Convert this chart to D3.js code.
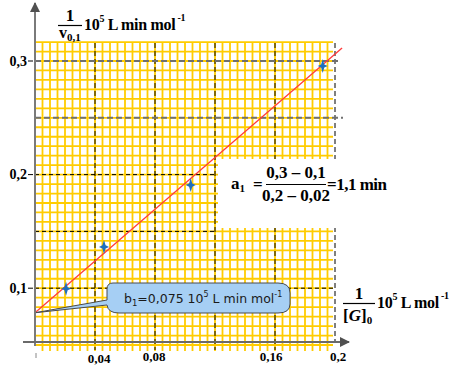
<!DOCTYPE html>
<html>
<head>
<meta charset="utf-8">
<script src="https://cdn.jsdelivr.net/npm/d3@7"></script>
<style>
  body { margin: 0; background: #fff; }
  svg { display: block; }
  .math { font-family: "Liberation Serif", "Times New Roman", serif; font-weight: bold; fill: #000; }
</style>
</head>
<body>
<svg width="465" height="386"></svg>
<script>
// measured points (1/[G]0, 1/v0,1)
const pointX = [0.0207, 0.046, 0.1038, 0.1918];
const pointY = [0.0995, 0.1363, 0.1908, 0.2956];

// fitted straight line, two ends
const lineX = [0, 0.2047];
const lineY = [0.0784, 0.3114];

const xTicks = [0.04, 0.08, 0.16, 0.2];
const xTickLabels = ['0,04', '0,08', '0,16', '0,2'];
const yTicks = [0.1, 0.2, 0.3];
const yTickLabels = ['0,1', '0,2', '0,3'];

const vGuides = [0.04, 0.08, 0.12, 0.16, 0.2];
const hGuides = [0.3, 0.25, 0.2, 0.15, 0.1];

const svg = d3.select('svg');

const x = d3.scaleLinear().domain([0, 0.2]).range([35, 335]);
const y = d3.scaleLinear().domain([0.05, 0.3]).range([345, 61]);

const gridTop = 43, gridBottom = 351, gridRight = 333;
const axisY = 342;

// graph paper
const grid = svg.append('g').attr('stroke', '#ffcc00').attr('stroke-width', 1.8);
grid.selectAll('line.v')
  .data(d3.range(1, 40).map(i => i * 0.005))
  .enter().append('line')
  .attr('x1', d => x(d)).attr('x2', d => x(d))
  .attr('y1', gridTop).attr('y2', gridBottom);
grid.selectAll('line.h')
  .data(d3.range(-1, 35).map(i => 0.05 + i * 0.05 / 6).filter(v => y(v) >= gridTop - 1 && y(v) <= gridBottom))
  .enter().append('line')
  .attr('x1', x(0)).attr('x2', gridRight)
  .attr('y1', d => y(d)).attr('y2', d => y(d));

// dashed guides
svg.append('g').selectAll('line')
  .data(vGuides)
  .enter().append('line')
  .attr('x1', d => x(d)).attr('x2', d => x(d))
  .attr('y1', gridTop).attr('y2', d => d === 0.2 ? axisY : gridBottom - 1)
  .attr('stroke', '#000').attr('stroke-width', 1)
  .attr('stroke-dasharray', '5,3');

const hEnd = { 0.3: 340, 0.25: 343, 0.2: 215, 0.15: 215, 0.1: 335 };
svg.append('g').selectAll('line')
  .data(hGuides)
  .enter().append('line')
  .attr('x1', x(0)).attr('x2', d => hEnd[d])
  .attr('y1', d => y(d)).attr('y2', d => y(d))
  .attr('stroke', d => d >= 0.25 ? '#707070' : '#000')
  .attr('stroke-width', d => d >= 0.25 ? 2 : 1)
  .attr('stroke-dasharray', d => d >= 0.25 ? '6,3' : '4,3');

// white box behind the slope formula
svg.append('rect')
  .attr('x', 218).attr('y', 159)
  .attr('width', 130).attr('height', 69)
  .attr('fill', '#fff');

// fitted line
svg.append('path')
  .datum(lineX.map((d, i) => [d, lineY[i]]))
  .attr('d', d3.line().x(d => x(d[0])).y(d => y(d[1])))
  .attr('stroke', '#ff3b3b').attr('stroke-width', 1.3).attr('fill', 'none');

// points as blue four-point stars
const star = 'M0,-7 L1.6,-1.6 L5,0 L1.6,1.6 L0,7 L-1.6,1.6 L-5,0 L-1.6,-1.6Z';
svg.append('g').selectAll('path')
  .data(pointX.map((d, i) => [d, pointY[i]]))
  .enter().append('path')
  .attr('d', star)
  .attr('transform', d => `translate(${x(d[0])},${y(d[1])})`)
  .attr('fill', '#1f6fbd');

// callout for the intercept
const tip = [x(0), y(lineY[0])];
const bx0 = 107, bx1 = 290, bt = 283, bb = 313;
const callout = d3.path();
callout.moveTo(bx0 + 6, bt);
callout.lineTo(bx1 - 12, bt);
callout.quadraticCurveTo(bx1, bt, bx1, bt + 10);
callout.lineTo(bx1, bb - 9);
callout.quadraticCurveTo(bx1, bb, bx1 - 12, bb);
callout.lineTo(bx0 + 12, bb);
callout.quadraticCurveTo(bx0 + 1, bb, bx0, bb - 8);
callout.lineTo(tip[0], tip[1]);
callout.lineTo(bx0, bb - 13);
callout.lineTo(bx0, bt + 6);
callout.quadraticCurveTo(bx0, bt, bx0 + 6, bt);
callout.closePath();
svg.append('path')
  .attr('d', callout.toString())
  .attr('fill', '#a6cff4').attr('stroke', '#4a4a4a').attr('stroke-width', 1);

const ct = svg.append('text')
  .attr('x', 124).attr('y', 303)
  .attr('font-family', 'DejaVu Sans, sans-serif')
  .attr('font-size', 12.5).attr('fill', '#1a1a1a');
ct.append('tspan').text('b');
ct.append('tspan').attr('font-size', 8.5).attr('dy', 3).text('1');
ct.append('tspan').attr('dy', -3).text('=0,075 10');
ct.append('tspan').attr('font-size', 8).attr('dy', -6).text('5');
ct.append('tspan').attr('dy', 6).text(' L min mol');
ct.append('tspan').attr('font-size', 8).attr('dy', -6).text('-1');

// axes
const defs = svg.append('defs');
defs.append('marker')
  .attr('id', 'arr').attr('viewBox', '0 0 10 10')
  .attr('refX', 9).attr('refY', 5)
  .attr('markerWidth', 5).attr('markerHeight', 5)
  .attr('orient', 'auto')
  .append('path').attr('d', 'M0,0 L10,5 L0,10 Z').attr('fill', '#505050');

svg.append('line')
  .attr('x1', x(0)).attr('x2', x(0))
  .attr('y1', axisY + 4).attr('y2', 3)
  .attr('stroke', '#7a7a7a').attr('stroke-width', 2)
  .attr('marker-end', 'url(#arr)');
svg.append('line')
  .attr('x1', 23).attr('x2', 349)
  .attr('y1', axisY).attr('y2', axisY)
  .attr('stroke', '#6a6a6a').attr('stroke-width', 2)
  .attr('marker-end', 'url(#arr)');
svg.append('line')
  .attr('x1', x(0) + 1).attr('x2', x(0) + 1)
  .attr('y1', 353).attr('y2', 358)
  .attr('stroke', '#888').attr('stroke-width', 1);

// tick labels
svg.append('g').selectAll('text')
  .data(yTicks)
  .enter().append('text')
  .attr('class', 'math')
  .attr('x', 27).attr('y', d => y(d) + 4.5)
  .attr('text-anchor', 'end').attr('font-size', 14)
  .text((d, i) => yTickLabels[i]);
svg.append('g').selectAll('line')
  .data(yTicks)
  .enter().append('line')
  .attr('x1', 28).attr('x2', 33)
  .attr('y1', d => y(d)).attr('y2', d => y(d))
  .attr('stroke', '#000');

svg.append('g').selectAll('text')
  .data(xTicks)
  .enter().append('text')
  .attr('class', 'math')
  .attr('x', d => x(d) + (d === 0.04 ? 4 : d === 0.16 ? -4 : d === 0.2 ? 3 : -1))
  .attr('y', d => d === 0.04 ? 363 : 361)
  .attr('text-anchor', 'middle').attr('font-size', 13)
  .text((d, i) => xTickLabels[i]);

// y axis title
svg.append('text').attr('class', 'math').attr('x', 70).attr('y', 21)
  .attr('text-anchor', 'middle').attr('font-size', 17).text('1');
svg.append('line').attr('x1', 58).attr('x2', 82).attr('y1', 25.5).attr('y2', 25.5)
  .attr('stroke', '#000').attr('stroke-width', 1.2);
const yv = svg.append('text').attr('class', 'math').attr('x', 59).attr('y', 38).attr('font-size', 16);
yv.append('tspan').text('v');
yv.append('tspan').attr('font-size', 11).attr('dy', 3).text('0,1');
const yt = svg.append('text').attr('class', 'math').attr('x', 84).attr('y', 30)
  .attr('font-size', 16).attr('letter-spacing', -0.3);
yt.append('tspan').text('10');
yt.append('tspan').attr('font-size', 10).attr('dy', -8).text('5');
yt.append('tspan').attr('dy', 8).text(' L min  mol');
yt.append('tspan').attr('font-size', 10).attr('dy', -9).text(' -1');

// x axis title
svg.append('text').attr('class', 'math').attr('x', 359).attr('y', 299)
  .attr('text-anchor', 'middle').attr('font-size', 17).text('1');
svg.append('line').attr('x1', 343).attr('x2', 375).attr('y1', 303.5).attr('y2', 303.5)
  .attr('stroke', '#000').attr('stroke-width', 1.2);
const xg = svg.append('text').attr('class', 'math').attr('x', 343).attr('y', 321).attr('font-size', 17);
xg.append('tspan').text('[');
xg.append('tspan').attr('font-style', 'italic').text('G');
xg.append('tspan').text(']');
xg.append('tspan').attr('font-size', 11).attr('dy', 3).text('0');
const xt = svg.append('text').attr('class', 'math').attr('x', 377).attr('y', 308)
  .attr('font-size', 16).attr('letter-spacing', -0.3);
xt.append('tspan').text('10');
xt.append('tspan').attr('font-size', 10).attr('dy', -8).text('5');
xt.append('tspan').attr('dy', 8).text(' L  mol');
xt.append('tspan').attr('font-size', 10).attr('dy', -9).text(' -1');

// slope formula
const a1 = svg.append('text').attr('class', 'math').attr('x', 231).attr('y', 189).attr('font-size', 17);
a1.append('tspan').text('a');
a1.append('tspan').attr('font-size', 11).attr('dy', 3).text('1');
svg.append('text').attr('class', 'math').attr('x', 253).attr('y', 190).attr('font-size', 17).text('=');
svg.append('text').attr('class', 'math').attr('x', 296).attr('y', 178)
  .attr('text-anchor', 'middle').attr('font-size', 17).text('0,3 – 0,1');
svg.append('line').attr('x1', 266).attr('x2', 326).attr('y1', 184.5).attr('y2', 184.5)
  .attr('stroke', '#000').attr('stroke-width', 1.2);
svg.append('text').attr('class', 'math').attr('x', 296).attr('y', 201)
  .attr('text-anchor', 'middle').attr('font-size', 17).text('0,2 – 0,02');
svg.append('text').attr('class', 'math').attr('x', 327).attr('y', 190)
  .attr('font-size', 17).attr('letter-spacing', -0.5).text('=1,1 min');
</script>
</body>
</html>
